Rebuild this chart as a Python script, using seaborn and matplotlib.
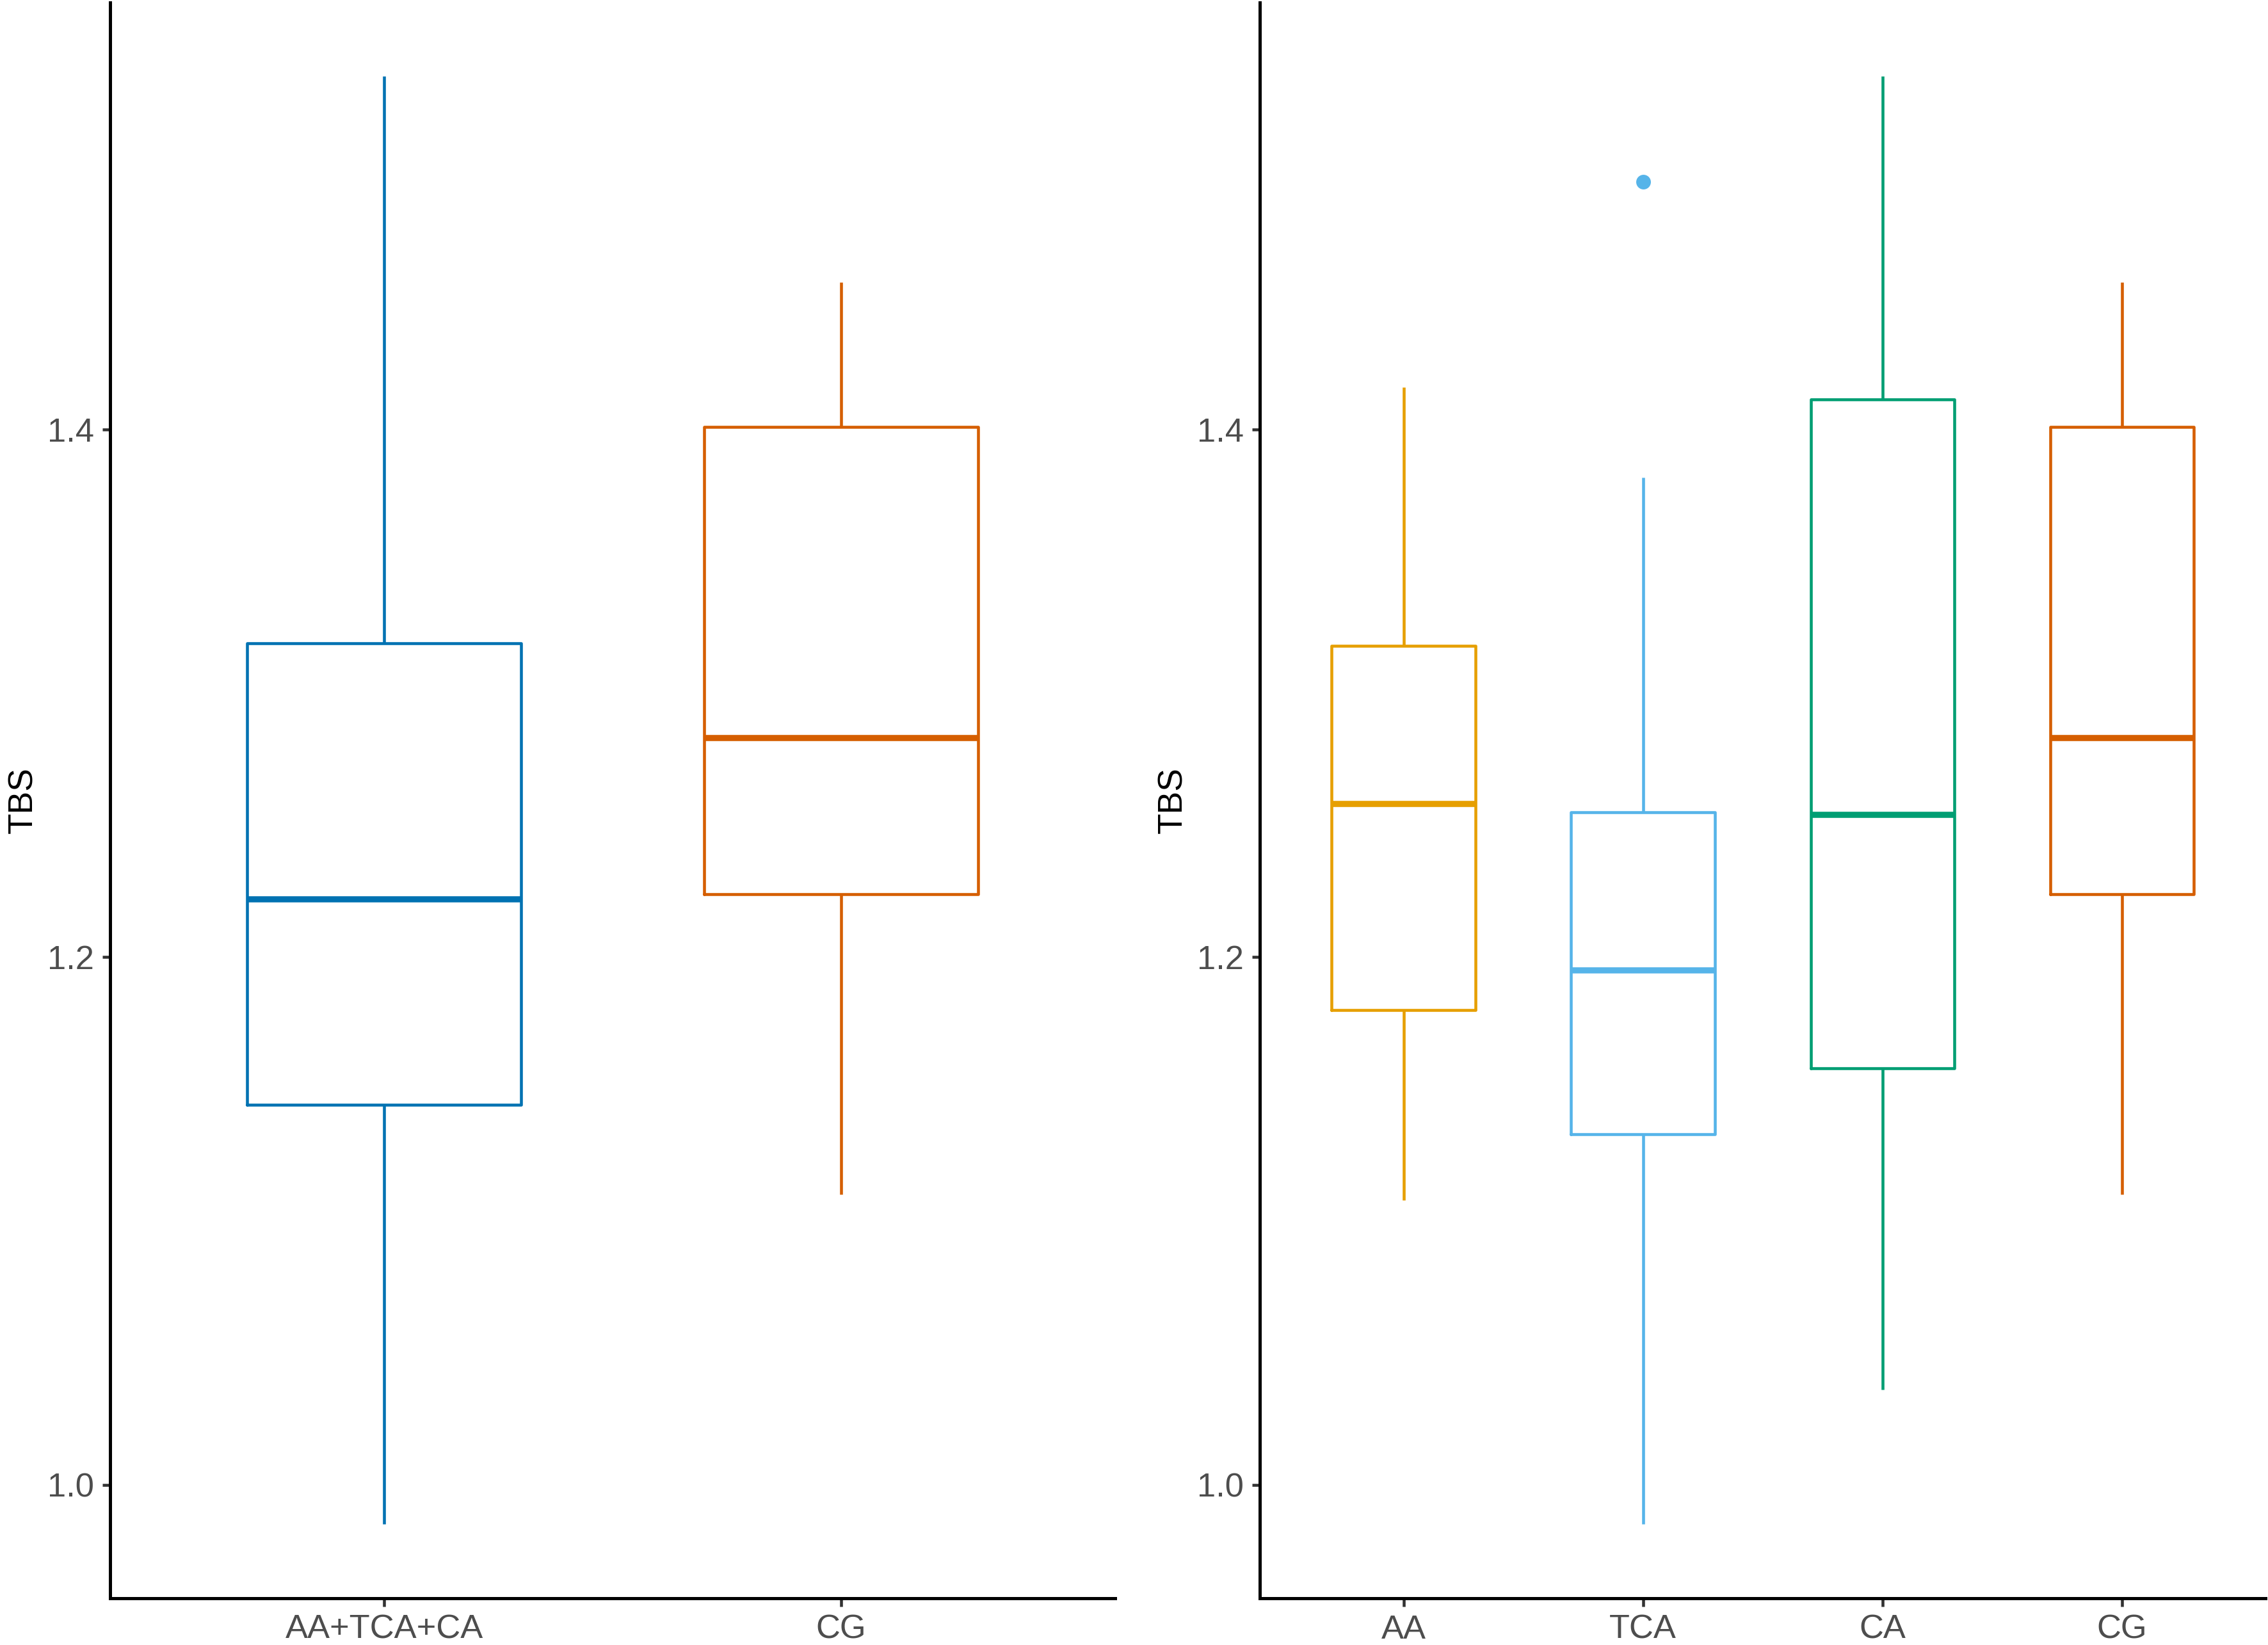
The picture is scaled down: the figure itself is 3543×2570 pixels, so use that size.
import numpy as np
import pandas as pd
import matplotlib
matplotlib.use("Agg")
import matplotlib.pyplot as plt
import seaborn as sns

# ---- data (five-number summaries) ----
left_groups = ["AA+TCA+CA", "CG"]
left_low = [0.985, 1.110]
left_q1 = [1.144, 1.224]
left_med = [1.222, 1.283]
left_q3 = [1.319, 1.401]
left_high = [1.534, 1.456]
left_colors = ["#0072B2", "#D55E00"]

right_groups = ["AA", "TCA", "CA", "CG"]
right_low = [1.108, 0.985, 1.036, 1.110]
right_q1 = [1.180, 1.133, 1.158, 1.224]
right_med = [1.258, 1.195, 1.254, 1.283]
right_q3 = [1.318, 1.255, 1.4115, 1.401]
right_high = [1.416, 1.382, 1.534, 1.456]
right_colors = ["#E69F00", "#56B4E9", "#009E73", "#D55E00"]

outlier_group = ["TCA"]
outlier_value = [1.494]

y_ticks = [1.0, 1.2, 1.4]
y_label = "TBS"


def summary_frame(groups, low, q1, med, q3, high):
    rows = []
    for g, a, b, c, d, e in zip(groups, low, q1, med, q3, high):
        for v in (a, b, c, d, e):
            rows.append({"group": g, "TBS": v})
    return pd.DataFrame(rows)


sns.set_theme(style="ticks")
plt.rcParams["font.family"] = ["Liberation Sans", "DejaVu Sans"]

fig = plt.figure(figsize=(3543 / 300, 2570 / 300), dpi=300)
ax1 = fig.add_axes([0.0485, 0.0285, 0.4432, 0.9700])
ax2 = fig.add_axes([0.5555, 0.0285, 0.4435, 0.9700])

lw = 1.1
for ax, groups, low, q1, med, q3, high, cols in [
    (ax1, left_groups, left_low, left_q1, left_med, left_q3, left_high, left_colors),
    (ax2, right_groups, right_low, right_q1, right_med, right_q3, right_high, right_colors),
]:
    df = summary_frame(groups, low, q1, med, q3, high)
    sns.boxplot(
        data=df, x="group", y="TBS", hue="group", order=groups, hue_order=groups,
        palette=dict(zip(groups, cols)), fill=False, width=0.6, whis=(0, 100),
        linewidth=lw, showcaps=False, legend=False, ax=ax,
        medianprops={"linewidth": 2.3},
    )
    ax.set_xlim(-0.6, len(groups) - 0.4)
    ax.set_ylim(0.957, 1.562)
    ax.set_yticks(y_ticks)
    ax.set_yticklabels([f"{t:.1f}" for t in y_ticks])
    ax.set_xlabel("")
    sns.despine(ax=ax)
    for s in ("left", "bottom"):
        ax.spines[s].set_linewidth(1.2)
        ax.spines[s].set_color("black")
    ax.tick_params(axis="both", direction="out", length=3.0, width=1.1,
                   color="#333333", labelcolor="#4D4D4D", labelsize=12.6, pad=3)

odf = pd.DataFrame({"group": outlier_group, "TBS": outlier_value})
sns.stripplot(data=odf, x="group", y="TBS", order=right_groups, jitter=False,
              color=right_colors[1], size=5.5, linewidth=0, ax=ax2)
ax2.set_xlim(-0.6, len(right_groups) - 0.4)
ax2.set_ylim(0.957, 1.562)

for ax in (ax1, ax2):
    ax.set_xlabel("")
    ax.set_ylabel(y_label, fontsize=12.8, color="black", labelpad=3)

fig.savefig("out.png", dpi=300, facecolor="white")
